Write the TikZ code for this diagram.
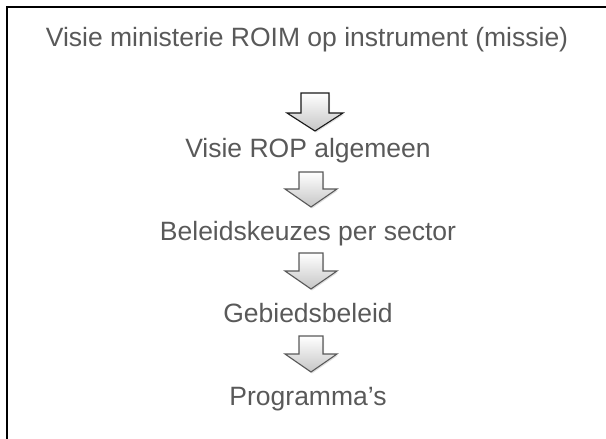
\documentclass[tikz,border=0pt]{standalone}
\usepackage{fontspec}
\setmainfont{Liberation Sans}
\usetikzlibrary{positioning, shadows}
\definecolor{textgray}{HTML}{595959}
\newcommand{\blockarrow}[6]{ % #1: x of centre, #2: y of top, #3: length, #4: half width of head, #5: half width of shaft, #6: outline
  \pgfmathsetmacro{\shoulder}{#2 + #3 - 18}
  \pgfmathsetmacro{\tipy}{#2 + #3}
  \shade[top color=white, bottom color=gray!45, draw=#6, line width=1.1pt, line join=miter,
    drop shadow={shadow xshift=1pt, shadow yshift=-1.5pt, opacity=0.25}]
    (#1-#5,#2) -- (#1+#5,#2) -- (#1+#5,\shoulder) -- (#1+#4,\shoulder)
    -- (#1,\tipy) -- (#1-#4,\shoulder) -- (#1-#5,\shoulder) -- cycle; % block arrow pointing down
}
\tikzset{
  label/.style={text=textgray, font=\fontsize{26.5}{30}\selectfont, inner sep=0pt, anchor=base}
}

\begin{document}
\begin{tikzpicture}[x=1pt, y=-1pt]
\useasboundingbox (0,0) rectangle (606,439);

% Frame (open to the right and bottom)
\draw[line width=1.5pt] (7,439) -- (7,7) -- (606,7);

% Title
\node[label] (missie) at (307,46) {Visie ministerie ROIM op instrument (missie)};

% Steps
\node[label] (rop) at (308,157.5) {Visie ROP algemeen};
\node[label] (sector) at (308,240) {Beleidskeuzes per sector};
\node[label] (gebied) at (308,322) {Gebiedsbeleid};
\node[label] (programma) at (308,405) {Programma’s};

% Arrows between the steps
\blockarrow{315}{93}{38}{28}{14}{black!90}
\blockarrow{311}{172}{35}{26}{12}{black!65}
\blockarrow{311}{253}{36}{26}{12}{black!65}
\blockarrow{311}{336}{36}{26}{12}{black!65}

\end{tikzpicture}
\end{document}
